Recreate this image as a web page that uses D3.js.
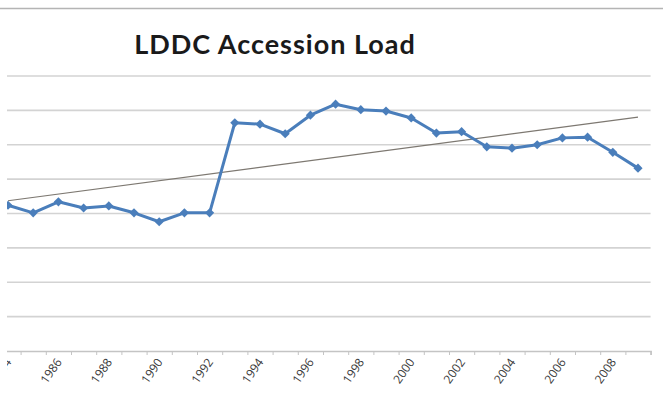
<!DOCTYPE html>
<html>
<head>
<meta charset="utf-8">
<script src="https://cdn.jsdelivr.net/npm/d3@7"></script>
<style>
  html, body { margin: 0; padding: 0; background: #ffffff; }
  svg { display: block; }
</style>
</head>
<body>
<svg id="chart" width="663" height="420"></svg>
<script>
// Yearly accession counts
const years = [1984, 1985, 1986, 1987, 1988, 1989, 1990, 1991, 1992, 1993, 1994, 1995, 1996,
               1997, 1998, 1999, 2000, 2001, 2002, 2003, 2004, 2005, 2006, 2007, 2008, 2009];
const accessions = [21200, 20100, 21700, 20800, 21100, 20100, 18800, 20100, 20100, 33200, 33000, 31600, 34300,
                    35900, 35100, 34900, 33900, 31700, 31900, 29700, 29500, 30000, 31000, 31100, 28900, 26600];
const labelYears = [1984, 1986, 1988, 1990, 1992, 1994, 1996, 1998, 2000, 2002, 2004, 2006, 2008];
const gridValues = [5000, 10000, 15000, 20000, 25000, 30000, 35000, 40000];
const yMax = 40000;
const titleText = "LDDC Accession Load";

const W = 663, H = 420;
const plot = { left: -4.6, right: 650.6, top: 76, bottom: 351 };
const visibleLeft = 7;

const svg = d3.select("#chart");

svg.append("defs").append("clipPath").attr("id", "visible")
  .append("rect").attr("x", visibleLeft).attr("y", 0).attr("width", W - visibleLeft).attr("height", H);

const x = d3.scaleBand().domain(years).range([plot.left, plot.right]);
const cx = yr => x(yr) + x.bandwidth() / 2;
const y = d3.scaleLinear().domain([0, yMax]).range([plot.bottom, plot.top]);
// boundaries between categories, for the tick marks
const edge = d3.scaleLinear().domain([0, years.length]).range([plot.left, plot.right]);

// chart frame top edge
svg.append("line")
  .attr("x1", 0).attr("x2", W).attr("y1", 8.5).attr("y2", 8.5)
  .attr("stroke", "#b4b4b4").attr("stroke-width", 1.5);

const g = svg.append("g").attr("clip-path", "url(#visible)");

// horizontal gridlines
g.append("g").selectAll("line").data(gridValues).join("line")
  .attr("x1", plot.left).attr("x2", plot.right)
  .attr("y1", d => y(d)).attr("y2", d => y(d))
  .attr("stroke", "#d3d3d3").attr("stroke-width", 1.6);

// category axis with tick marks between years
const tickAxis = d3.axisBottom(edge)
  .tickValues(d3.range(years.length + 1))
  .tickFormat("")
  .tickSizeOuter(0)
  .tickSize(4);
const axG = g.append("g").attr("transform", `translate(0,${plot.bottom})`).call(tickAxis);
axG.select(".domain").attr("stroke", "#c4c4c4").attr("stroke-width", 1.6);
axG.selectAll(".tick line").attr("stroke", "#c4c4c4");

// rotated year labels
const labelAxis = d3.axisBottom(x).tickValues(labelYears).tickSize(0);
const lbG = g.append("g").attr("transform", `translate(0,${plot.bottom})`).call(labelAxis);
lbG.select(".domain").remove();
lbG.selectAll("text")
  .attr("y", 0).attr("dy", 0)
  .attr("transform", "translate(4,11) rotate(-55)")
  .style("text-anchor", "end")
  .attr("fill", "#3a3a3a")
  .style("font-family", "'Open Sans', 'Noto Sans', sans-serif")
  .style("font-size", "12px");

// linear trend (least squares over the year index)
const n = years.length;
const mi = (n - 1) / 2;
const mv = d3.mean(accessions);
const slope = d3.sum(accessions, (v, i) => (i - mi) * (v - mv)) / d3.sum(accessions, (v, i) => (i - mi) * (i - mi));
const trend = [0, n - 1].map(i => [years[i], mv + slope * (i - mi)]);
g.append("path")
  .datum(trend)
  .attr("d", d3.line().x(d => cx(d[0])).y(d => y(d[1])))
  .attr("fill", "none")
  .attr("stroke", "#7d7871")
  .attr("stroke-width", 1.2);

// accession series
const series = years.map((yr, i) => [yr, accessions[i]]);
g.append("path")
  .datum(series)
  .attr("d", d3.line().x(d => cx(d[0])).y(d => y(d[1])))
  .attr("fill", "none")
  .attr("stroke", "#4a7ebb")
  .attr("stroke-width", 3)
  .attr("stroke-linejoin", "round");

g.append("g").selectAll("path").data(series).join("path")
  .attr("d", d3.symbol(d3.symbolSquare, 42))
  .attr("transform", d => `translate(${cx(d[0])},${y(d[1])}) rotate(45)`)
  .attr("fill", "#4a7ebb");

// title
svg.append("text")
  .attr("x", 275).attr("y", 54)
  .attr("text-anchor", "middle")
  .style("font-family", "Lato, 'Open Sans', sans-serif")
  .style("font-weight", "bold")
  .style("font-size", "27px")
  .style("letter-spacing", "1px")
  .attr("fill", "#1a1a1a")
  .text(titleText);
</script>
</body>
</html>
